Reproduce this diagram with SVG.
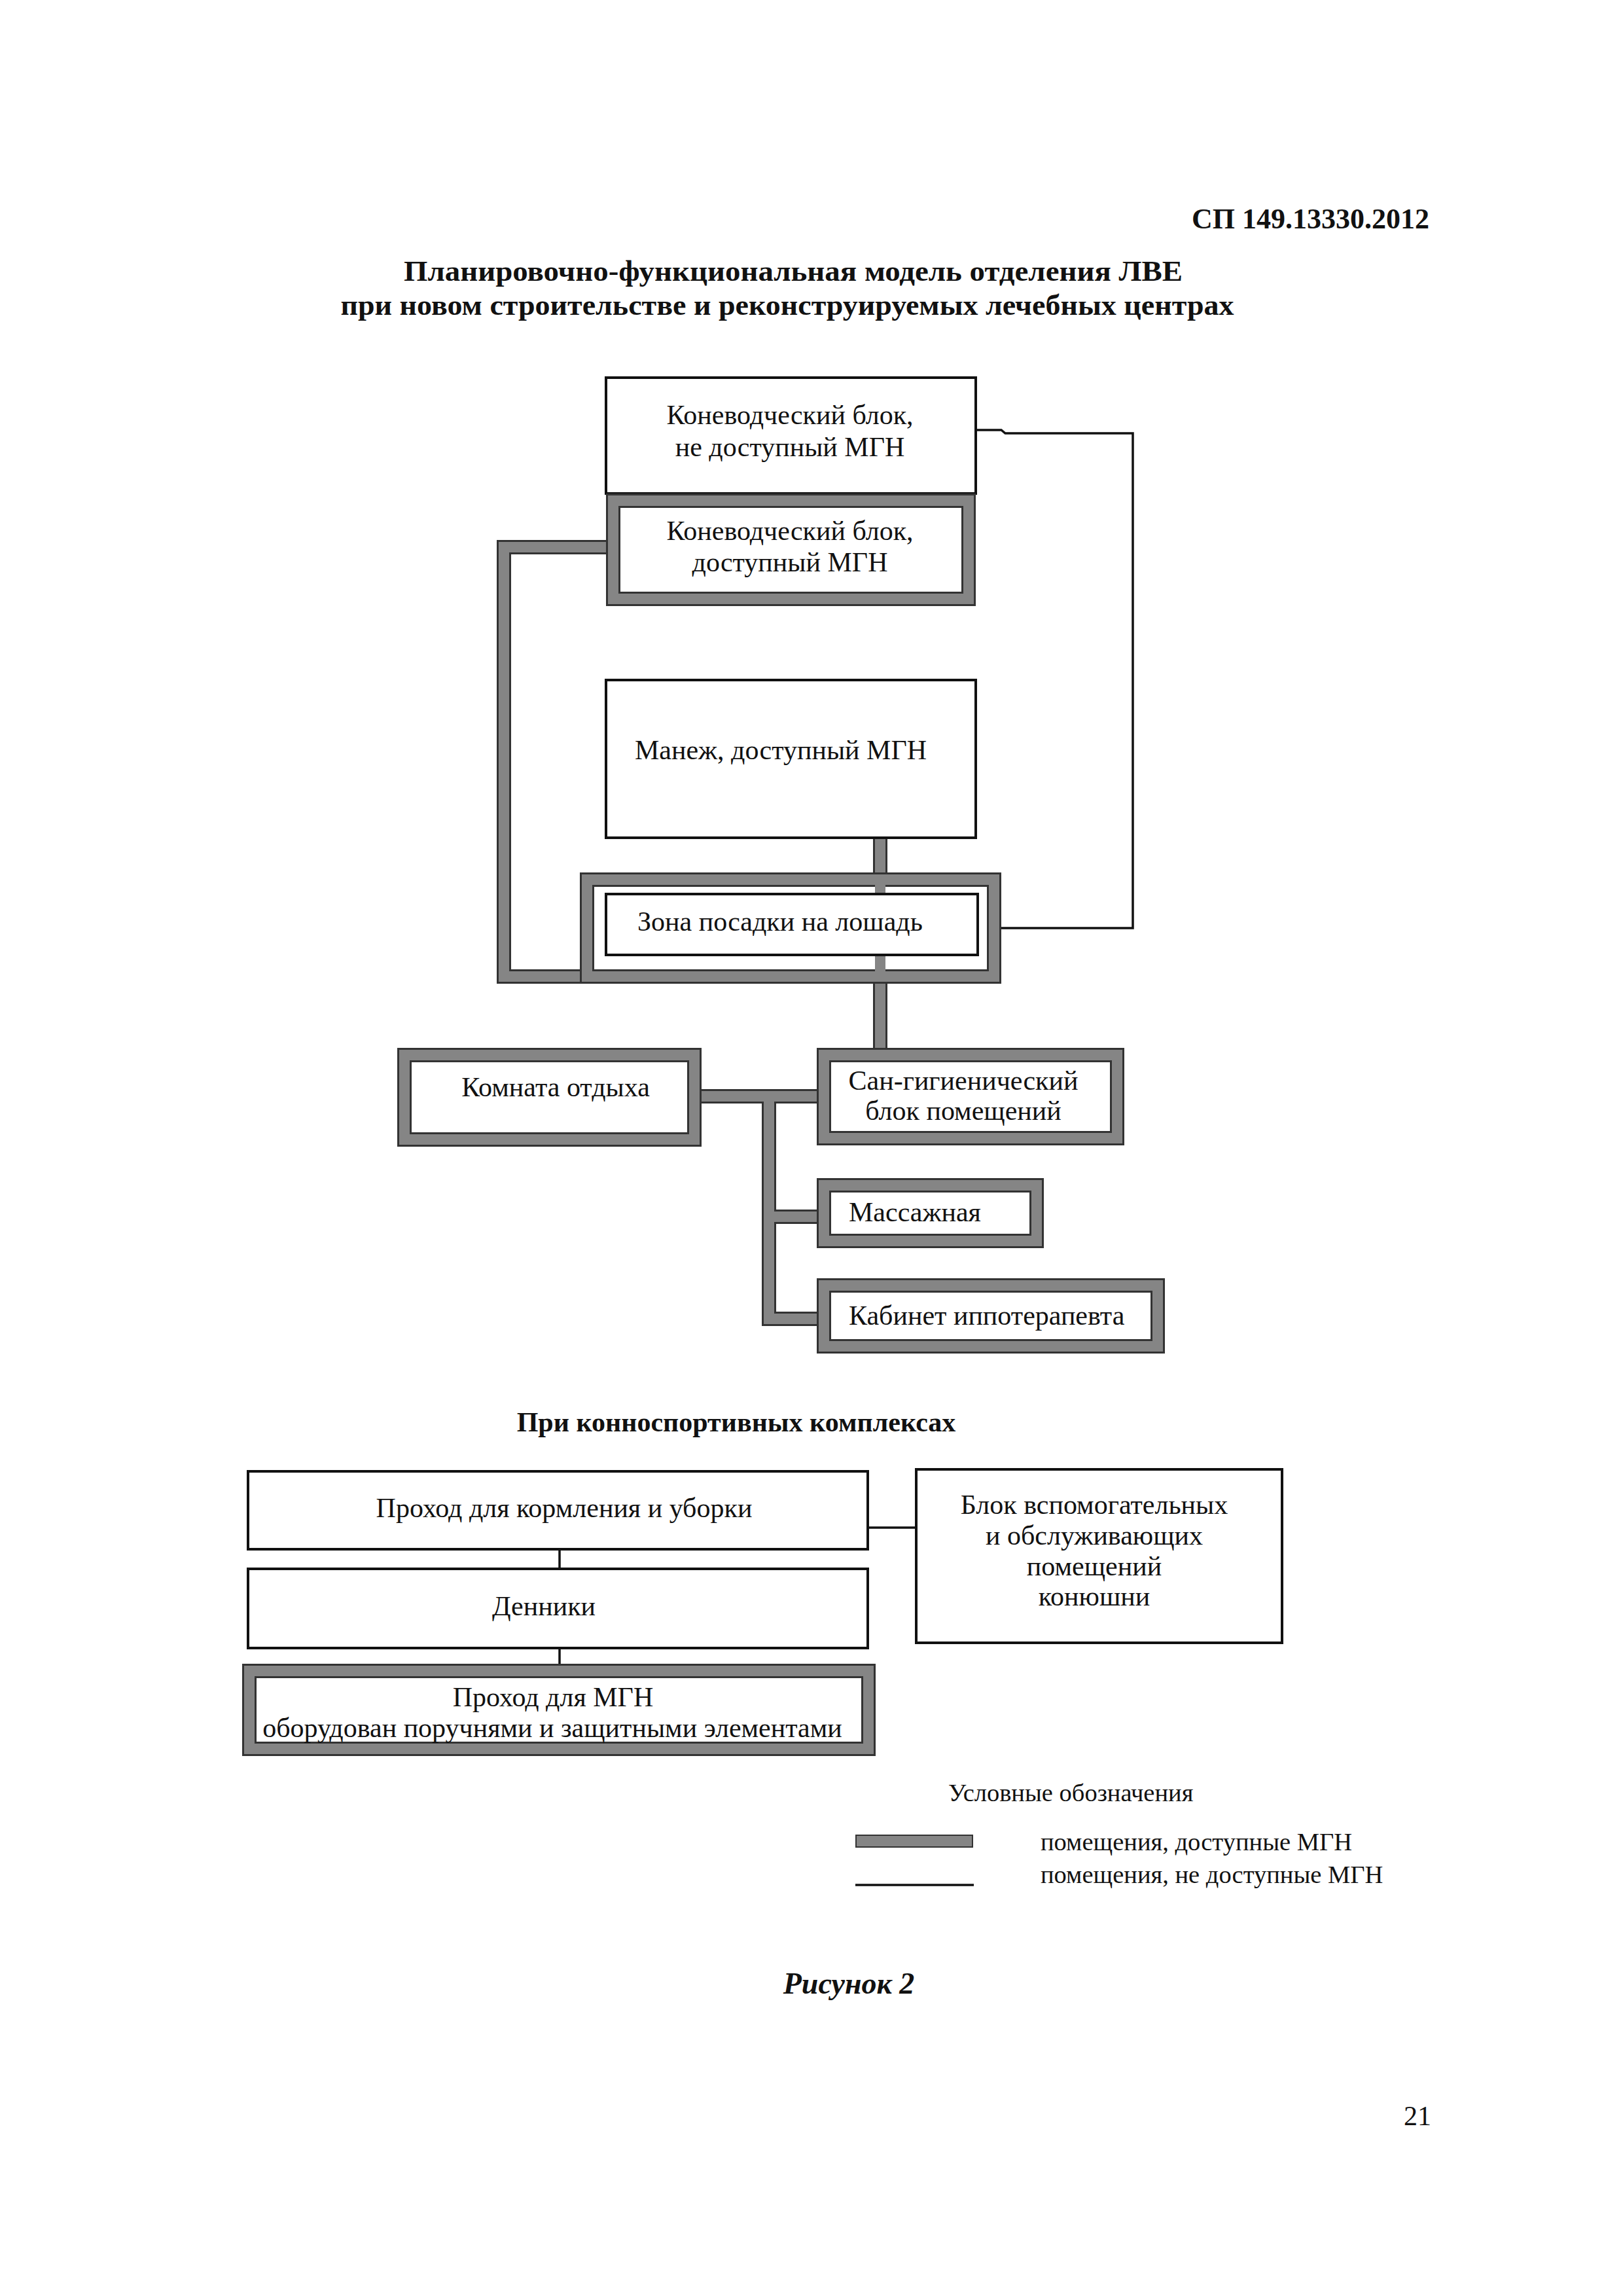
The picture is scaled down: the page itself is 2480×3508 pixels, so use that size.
<svg xmlns="http://www.w3.org/2000/svg" width="2480" height="3508" viewBox="0 0 2480 3508">
<style>
text{font-family:"Liberation Serif","Times New Roman",serif;fill:#111}
.t{font-size:42px}
.s{font-size:38.5px}
.c{text-anchor:middle}
.b{font-weight:bold}
.thin{fill:#fff;stroke:#111;stroke-width:4}
.gd{fill:#fff;stroke:#333;stroke-width:22}
.gl{fill:none;stroke:#858585;stroke-width:16}
.cd{fill:none;stroke:#333;stroke-width:22;stroke-linejoin:miter}
.cl{fill:none;stroke:#858585;stroke-width:16;stroke-linejoin:miter}
.ln{fill:none;stroke:#111;stroke-width:3.5}
</style>
<rect width="2480" height="3508" fill="#fff"/>
<text x="2184" y="349" font-size="44" class="b" text-anchor="end">СП 149.13330.2012</text>
<text x="1212" y="429" font-size="44" class="b c" textLength="1190" lengthAdjust="spacingAndGlyphs">Планировочно-функциональная модель отделения ЛВЕ</text>
<text x="1203" y="481" font-size="44" class="b c" textLength="1365" lengthAdjust="spacingAndGlyphs">при новом строительстве и реконструируемых лечебных центрах</text>

<g id="connectors">
<path class="cd" d="M926 836 H770 V1492 H890"/>
<path class="cd" d="M1345 1280 V1366 M1345 1459 V1601"/>
<path class="cd" d="M1072 1675 H1248 M1175 1675 V2015 H1248 M1175 1859 H1248"/>
<path class="cl" d="M926 836 H770 V1492 H890"/>
<path class="cl" d="M1345 1280 V1366 M1345 1459 V1601"/>
<path class="cl" d="M1072 1675 H1248 M1175 1675 V2015 H1248 M1175 1859 H1248"/>
<path class="ln" d="M1491 657 H1530 L1536 662 H1731 V1418 H1494"/>
<path class="ln" d="M855 2367 V2397 M855 2518 V2544 M1326 2334 H1400"/>
</g>

<g id="n_konevod_ne">
<rect class="thin" x="926" y="577" width="565" height="177"/>
<text class="t c" x="1207" y="648">Коневодческий блок,</text>
<text class="t c" x="1207" y="697">не доступный МГН</text>
</g>
<g id="n_konevod_dost">
<rect class="gd" x="937" y="765" width="543" height="150"/>
<rect class="gl" x="937" y="765" width="543" height="150"/>
<text class="t c" x="1207" y="825">Коневодческий блок,</text>
<text class="t c" x="1207" y="873">доступный МГН</text>
</g>
<g id="n_manezh">
<rect class="thin" x="926" y="1039" width="565" height="241"/>
<text class="t c" x="1193" y="1160">Манеж, доступный МГН</text>
</g>
<g id="n_zona_frame">
<rect class="gd" x="897" y="1344" width="622" height="148"/>
<rect class="gl" x="897" y="1344" width="622" height="148"/>
<path class="cl" d="M1345 1336 V1366 M1345 1459 V1500"/>
</g>
<g id="n_zona">
<rect class="thin" x="926" y="1366" width="568" height="93"/>
<text class="t" x="974" y="1422">Зона посадки на лошадь</text>
</g>
<g id="n_komnata">
<rect class="gd" x="618" y="1612" width="443" height="129"/>
<rect class="gl" x="618" y="1612" width="443" height="129"/>
<text class="t c" x="849" y="1675">Комната отдыха</text>
</g>
<g id="n_san">
<rect class="gd" x="1259" y="1612" width="448" height="127"/>
<rect class="gl" x="1259" y="1612" width="448" height="127"/>
<text class="t c" x="1472" y="1665">Сан-гигиенический</text>
<text class="t c" x="1472" y="1711">блок помещений</text>
</g>
<g id="n_massazh">
<rect class="gd" x="1259" y="1811" width="325" height="85"/>
<rect class="gl" x="1259" y="1811" width="325" height="85"/>
<text class="t" x="1297" y="1866">Массажная</text>
</g>
<g id="n_kabinet">
<rect class="gd" x="1259" y="1964" width="510" height="93"/>
<rect class="gl" x="1259" y="1964" width="510" height="93"/>
<text class="t" x="1297" y="2024">Кабинет иппотерапевта</text>
</g>

<text x="1125" y="2187" font-size="42" class="b c">При конноспортивных комплексах</text>

<g id="n_prohod_korm">
<rect class="thin" x="379" y="2248" width="947" height="119"/>
<text class="t c" x="862" y="2318">Проход для кормления и уборки</text>
</g>
<g id="n_denniki">
<rect class="thin" x="379" y="2397" width="947" height="121"/>
<text class="t c" x="831" y="2468">Денники</text>
</g>
<g id="n_blok">
<rect class="thin" x="1400" y="2245" width="559" height="265"/>
<text class="t c" x="1672" y="2313">Блок вспомогательных</text>
<text class="t c" x="1672" y="2360">и обслуживающих</text>
<text class="t c" x="1672" y="2407">помещений</text>
<text class="t c" x="1672" y="2453">конюшни</text>
</g>
<g id="n_prohod_mgn">
<rect class="gd" x="381" y="2553" width="946" height="119"/>
<rect class="gl" x="381" y="2553" width="946" height="119"/>
<text class="t c" x="845" y="2607">Проход для МГН</text>
<text class="t c" x="844" y="2654">оборудован поручнями и защитными элементами</text>
</g>

<g id="legend">
<text class="s" x="1449" y="2752">Условные обозначения</text>
<rect x="1308" y="2804" width="178" height="18" fill="#858585" stroke="#333" stroke-width="2"/>
<text class="s" x="1590" y="2827">помещения, доступные МГН</text>
<line x1="1307" y1="2880" x2="1488" y2="2880" stroke="#111" stroke-width="3.5"/>
<text class="s" x="1590" y="2877">помещения, не доступные МГН</text>
</g>

<text x="1297" y="3046" font-size="46" class="b c" font-style="italic">Рисунок 2</text>
<text x="2187" y="3247" font-size="42" text-anchor="end">21</text>
</svg>
